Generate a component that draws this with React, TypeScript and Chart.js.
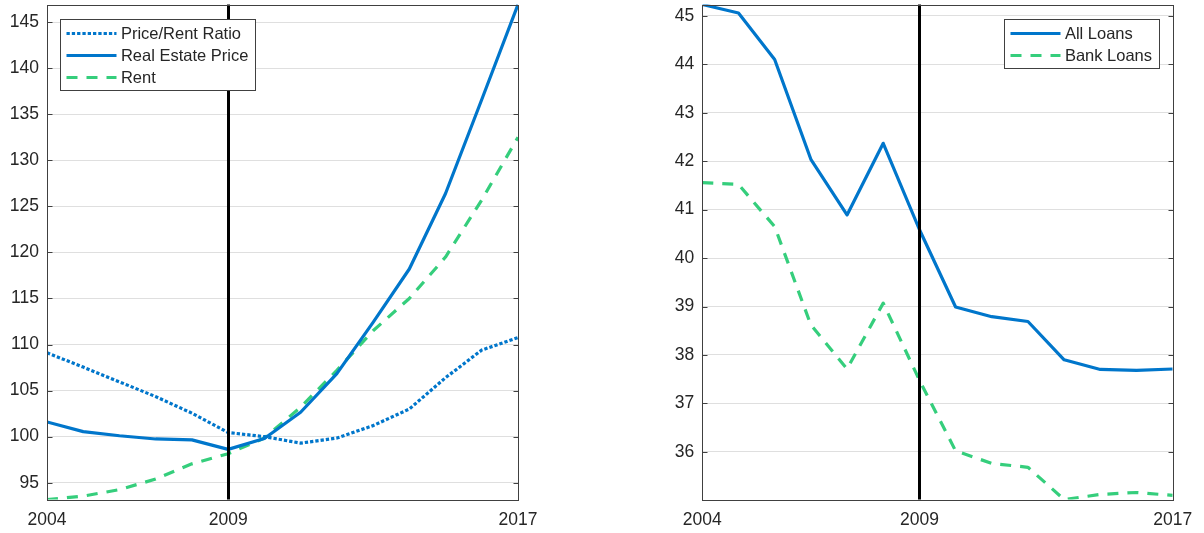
import React, { useEffect, useRef } from "react";
import { Chart, registerables } from "chart.js";

Chart.register(...registerables);

const FONT = '"Liberation Sans", Arial, Helvetica, sans-serif';
const TEXT = "#262626";
const AXIS = "#404040";
const GRID = "#dfdfdf";
const BLUE = "#0076CB";
const GREEN = "#35ce7c";
const LINE_W = 3.2;
const TICK_SIZE = 17.5;
const LEGEND_SIZE = 16.5;

// Shared x axis: 14 periods, labelled at three positions
const yearLabels = ["2004", "2009", "2017"];

// Real estate panel
const estateTickPos = [0, 5, 13];
const estateYTicks = [95, 100, 105, 110, 115, 120, 125, 130, 135, 140, 145];
const estateYMin = 93.18;
const estateYMax = 146.91;
const priceRentRatio = [109.1, 107.55, 105.95, 104.35, 102.55, 100.45, 100.0, 99.3, 99.85, 101.2, 103.0, 106.4, 109.4, 110.75];
const realEstatePrice = [101.6, 100.55, 100.1, 99.75, 99.65, 98.62, 99.8, 102.65, 106.85, 112.4, 118.2, 126.4, 136.6, 146.91];
const rent = [93.18, 93.55, 94.25, 95.4, 97.05, 98.15, 99.85, 103.2, 107.2, 111.5, 115.0, 119.5, 125.7, 132.5];

// Loans panel
const loansTickPos = [0, 6, 13];
const loansYTicks = [36, 37, 38, 39, 40, 41, 42, 43, 44, 45];
const loansYMin = 35.015;
const loansYMax = 45.236;
const allLoans = [45.236, 45.06, 44.1, 42.04, 40.89, 42.37, 40.59, 38.99, 38.79, 38.69, 37.9, 37.7, 37.68, 37.71];
const bankLoans = [41.56, 41.52, 40.65, 38.62, 37.71, 39.07, 37.48, 36.02, 35.76, 35.68, 35.015, 35.12, 35.16, 35.1];

const DOTTED = [3.3, 2];
const DASHED = [11, 9];

type Series = { label: string; values: number[]; color: string; dash: number[] };

type Panel = {
  left: number;
  width: number;
  axisWidth: number;
  padRight: number;
  series: Series[];
  xTickPos: number[];
  yTicks: number[];
  yMin: number;
  yMax: number;
  markerAt: number;
  legendSide: "left" | "right";
};

const estatePanel: Panel = {
  left: 0,
  width: 600,
  axisWidth: 47,
  padRight: 82,
  series: [
    { label: "Price/Rent Ratio", values: priceRentRatio, color: BLUE, dash: DOTTED },
    { label: "Real Estate Price", values: realEstatePrice, color: BLUE, dash: [] },
    { label: "Rent", values: rent, color: GREEN, dash: DASHED },
  ],
  xTickPos: estateTickPos,
  yTicks: estateYTicks,
  yMin: estateYMin,
  yMax: estateYMax,
  markerAt: estateTickPos[1],
  legendSide: "left",
};

const loansPanel: Panel = {
  left: 620,
  width: 584,
  axisWidth: 82.3,
  padRight: 31.3,
  series: [
    { label: "All Loans", values: allLoans, color: BLUE, dash: [] },
    { label: "Bank Loans", values: bankLoans, color: GREEN, dash: DASHED },
  ],
  xTickPos: loansTickPos,
  yTicks: loansYTicks,
  yMin: loansYMin,
  yMax: loansYMax,
  markerAt: loansTickPos[1],
  legendSide: "right",
};

// Box frame, inward y tick marks, the black marker line and the inset legend
const panelDecor = {
  id: "panelDecor",
  afterDatasetsDraw(chart: any, _args: any, opts: any) {
    const { ctx, chartArea: a, scales } = chart;
    const xs = scales.x;
    const ys = scales.y;
    ctx.save();

    // vertical marker
    const mx = Math.round(xs.getPixelForValue(opts.markerAt)) + 0.5;
    ctx.setLineDash([]);
    ctx.strokeStyle = "#000";
    ctx.lineWidth = 3;
    ctx.beginPath();
    ctx.moveTo(mx, a.top);
    ctx.lineTo(mx, a.bottom);
    ctx.stroke();

    // frame
    const l = Math.round(a.left) + 0.5;
    const r = Math.round(a.right) + 0.5;
    const t = Math.round(a.top) + 0.5;
    const b = Math.round(a.bottom) + 0.5;
    ctx.strokeStyle = AXIS;
    ctx.lineWidth = 1;
    ctx.strokeRect(l, t, r - l, b - t);

    // inward tick marks on both vertical sides
    ctx.beginPath();
    for (const tk of ys.ticks) {
      const py = Math.round(ys.getPixelForValue(tk.value)) + 0.5;
      ctx.moveTo(l, py);
      ctx.lineTo(l + 5, py);
      ctx.moveTo(r - 5, py);
      ctx.lineTo(r, py);
    }
    ctx.stroke();

    // legend
    const items = chart.data.datasets.map((d: any) => ({
      label: d.label,
      color: d.borderColor,
      dash: d.borderDash || [],
    }));
    ctx.font = `${LEGEND_SIZE}px ${FONT}`;
    const textW = Math.max(...items.map((it: any) => ctx.measureText(it.label).width));
    const rowH = 22;
    const boxW = Math.round(6.4 + 50 + 4 + textW + 7);
    const boxH = Math.round(items.length * rowH + 4.5);
    const boxTop = Math.round(a.top + 14.5) + 0.5;
    const boxLeft =
      opts.legendSide === "left"
        ? Math.round(a.left + 13.3) + 0.5
        : Math.round(a.right - 13.7 - boxW) + 0.5;
    ctx.fillStyle = "#fff";
    ctx.fillRect(boxLeft, boxTop, boxW, boxH);
    ctx.strokeStyle = AXIS;
    ctx.lineWidth = 1;
    ctx.strokeRect(boxLeft, boxTop, boxW, boxH);

    items.forEach((it: any, i: number) => {
      const cy = boxTop + 14 + i * rowH;
      ctx.strokeStyle = it.color;
      ctx.lineWidth = LINE_W;
      ctx.setLineDash(it.dash);
      ctx.beginPath();
      ctx.moveTo(boxLeft + 6, cy);
      ctx.lineTo(boxLeft + 56, cy);
      ctx.stroke();
      ctx.setLineDash([]);
      ctx.fillStyle = TEXT;
      ctx.textBaseline = "middle";
      ctx.textAlign = "left";
      ctx.fillText(it.label, boxLeft + 60.4, cy + 0.5);
    });

    ctx.restore();
  },
};

function PanelChart({ panel }: { panel: Panel }) {
  const ref = useRef<HTMLCanvasElement | null>(null);

  useEffect(() => {
    if (!ref.current) return;
    const chart = new Chart(ref.current, {
      type: "line",
      data: {
        datasets: panel.series.map((s) => ({
          label: s.label,
          data: s.values.map((v, i) => ({ x: i, y: v })),
          borderColor: s.color,
          backgroundColor: s.color,
          borderWidth: LINE_W,
          borderDash: s.dash,
          borderCapStyle: "butt",
          borderJoinStyle: "round",
          pointRadius: 0,
          tension: 0,
          fill: false,
        })),
      },
      options: {
        responsive: false,
        animation: false,
        devicePixelRatio: 1,
        layout: { padding: { left: 0, right: panel.padRight, top: 4.5, bottom: 0 } },
        plugins: {
          legend: { display: false },
          tooltip: { enabled: false },
          panelDecor: { markerAt: panel.markerAt, legendSide: panel.legendSide },
        } as any,
        scales: {
          x: {
            type: "linear",
            min: 0,
            max: panel.series[0].values.length - 1,
            grid: { display: false, drawTicks: false },
            border: { display: false },
            afterBuildTicks: (s: any) => {
              s.ticks = panel.xTickPos.map((v) => ({ value: v }));
            },
            afterFit: (s: any) => {
              s.height = 33.5;
              s.paddingLeft = 0;
              s.paddingRight = 0;
            },
            ticks: {
              autoSkip: false,
              maxRotation: 0,
              padding: 10,
              color: TEXT,
              font: { family: FONT, size: TICK_SIZE },
              callback: (_v: any, i: number) => yearLabels[i],
            },
          },
          y: {
            type: "linear",
            min: panel.yMin,
            max: panel.yMax,
            grid: { color: GRID, lineWidth: 1, drawTicks: false },
            border: { display: false },
            afterBuildTicks: (s: any) => {
              s.ticks = panel.yTicks.map((v) => ({ value: v }));
            },
            afterFit: (s: any) => {
              s.width = panel.axisWidth;
              s.paddingTop = 0;
              s.paddingBottom = 0;
            },
            ticks: {
              padding: 8,
              color: TEXT,
              font: { family: FONT, size: TICK_SIZE },
              callback: (v: any) => String(v),
            },
          },
        },
      } as any,
      plugins: [panelDecor],
    });
    return () => chart.destroy();
  }, [panel]);

  return (
    <canvas
      ref={ref}
      width={panel.width}
      height={533}
      style={{ position: "absolute", left: panel.left, top: 0, width: panel.width, height: 533 }}
    />
  );
}

export default function App() {
  return (
    <div
      style={{
        position: "fixed",
        left: 0,
        top: 0,
        width: 1204,
        height: 533,
        background: "#fff",
        overflow: "hidden",
      }}
    >
      <PanelChart panel={estatePanel} />
      <PanelChart panel={loansPanel} />
    </div>
  );
}
